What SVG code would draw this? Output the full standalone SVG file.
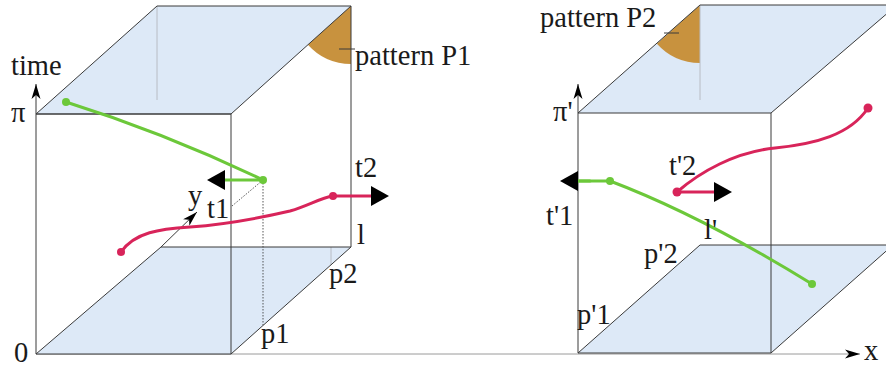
<svg xmlns="http://www.w3.org/2000/svg" width="886" height="369" viewBox="0 0 886 369">
<style>
.face{fill:#dde9f7;stroke:none}
.edge{fill:none;stroke:#3a3a3a;stroke-width:1}
.faint{fill:none;stroke:#b8bcc4;stroke-width:1}
.axis{fill:none;stroke:#9a9a9a;stroke-width:1}
.dot{fill:none;stroke:#444;stroke-width:0.9;stroke-dasharray:1.5 1.5}
.sector{fill:#c8923e;stroke:none}
.green{fill:none;stroke:#6cc83a;stroke-width:3;stroke-linecap:round}
.red{fill:none;stroke:#d8245a;stroke-width:3;stroke-linecap:round}
.gdot{fill:#6cc83a}
.rdot{fill:#d8245a}
text{font-family:"Liberation Serif","Times New Roman",serif;font-size:28.5px;fill:#1a1a1a}
</style>
<defs>
<marker id="big" markerUnits="userSpaceOnUse" viewBox="0 -10 18 20" refX="0" refY="0" markerWidth="18" markerHeight="20" orient="auto">
<path d="M0,-10 L18,0 L0,10 Z" fill="#000"/>
</marker>
<marker id="small" markerUnits="userSpaceOnUse" viewBox="-15 -5 16 10" refX="0" refY="0" markerWidth="16" markerHeight="10" orient="auto">
<path d="M0,0 L-15,-4.5 L-11,0 L-15,4.5 Z" fill="#000"/>
</marker>
</defs>
<rect width="886" height="369" fill="#fff"/>

<g id="x-axis">
<line class="axis" x1="36" y1="354" x2="860" y2="354" marker-end="url(#small)"/>
</g>

<g id="cube-left">
<polygon class="face" points="36,114 231,114 351,6 157,6"/>
<polygon class="face" points="36,354 231,354 351,247 161,247"/>
<path class="sector" d="M351,6 L351,64 A58,58 0 0,1 307.9,44.8 Z"/>
<line class="faint" x1="157" y1="6" x2="157" y2="100"/>
<line class="faint" x1="331" y1="247" x2="331" y2="265"/>
<path class="edge" d="M36,114 L157,6 L351,6 L231,114 Z"/>
<path class="edge" d="M36,114 L231,114 L231,354 L36,354"/>
<path class="edge" d="M351,6 L351,247 L161,247 M231,354 L351,247"/>
<line class="edge" x1="36" y1="354" x2="161" y2="247"/>
<line class="edge" x1="339" y1="49" x2="355" y2="49"/>
<line class="edge" x1="36" y1="354" x2="36" y2="84" marker-end="url(#small)"/>
<line class="edge" x1="161" y1="247" x2="197" y2="212" stroke-width="0.8" marker-end="url(#small)"/>
</g>

<g id="cube-right">
<polygon class="face" points="578,113 771,113 897,5 700,5"/>
<polygon class="face" points="578,353 771,353 893,245 700,245"/>
<path class="sector" d="M700,5 L700,63 A58,58 0 0,1 656.9,43.8 Z"/>
<line class="faint" x1="700" y1="5" x2="700" y2="100"/>
<path class="edge" d="M578,113 L700,5 L897,5 M771,113 L897,5"/>
<path class="edge" d="M578,113 L771,113 L771,353 L578,353"/>
<path class="edge" d="M578,353 L700,245 L893,245 M771,353 L893,245"/>
<line class="edge" x1="664" y1="33" x2="679" y2="33"/>
<line class="edge" x1="578" y1="353" x2="578" y2="84" marker-end="url(#small)"/>
</g>

<g id="connectors">
<line class="dot" x1="263" y1="180" x2="263" y2="325"/>
<line class="dot" x1="263" y1="180" x2="232" y2="206"/>
<path class="green" d="M66,102 Q165,133 263,180"/>
<line class="green" x1="263" y1="180" x2="225" y2="180" marker-end="url(#big)"/>
<path class="red" d="M121,252 C135,232 160,229 190,227 C230,224 260,218 290,211 C310,205 320,198 333,196"/>
<line class="red" x1="333" y1="196" x2="371" y2="196" marker-end="url(#big)"/>
<path class="green" d="M577,181 L610,181 Q700,215 812,284"/>
<line class="green" x1="590" y1="181" x2="578" y2="181" marker-end="url(#big)"/>
<path class="red" d="M677,192 C700,172 735,152 775,148 C815,144 850,135 868,108"/>
<line class="red" x1="677" y1="192" x2="714" y2="192" marker-end="url(#big)"/>
<circle class="gdot" cx="66" cy="102" r="4"/>
<circle class="gdot" cx="263" cy="180" r="4"/>
<circle class="rdot" cx="121" cy="252" r="4"/>
<circle class="rdot" cx="333" cy="196" r="4"/>
<circle class="gdot" cx="610" cy="181" r="4"/>
<circle class="gdot" cx="812" cy="284" r="4"/>
<circle class="rdot" cx="677" cy="192" r="4.5"/>
<circle class="rdot" cx="868" cy="108" r="4.5"/>
</g>

<g id="labels">
<text x="11" y="75">time</text>
<text x="11" y="122">π</text>
<text x="14" y="362">0</text>
<text x="355" y="65">pattern P1</text>
<text x="355" y="177">t2</text>
<text x="207" y="218">t1</text>
<text x="188" y="205">y</text>
<text x="357" y="244">l</text>
<text x="329" y="283">p2</text>
<text x="261" y="343">p1</text>
<text x="540" y="27">pattern P2</text>
<text x="553" y="121">π'</text>
<text x="669" y="175">t'2</text>
<text x="546" y="225">t'1</text>
<text x="704" y="239">l'</text>
<text x="644" y="263">p'2</text>
<text x="577" y="324">p'1</text>
<text x="864" y="360">x</text>
</g>
</svg>
